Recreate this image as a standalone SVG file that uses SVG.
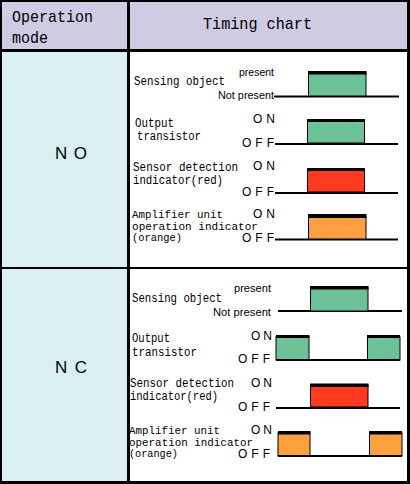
<svg xmlns="http://www.w3.org/2000/svg" width="410" height="484" viewBox="0 0 410 484">
<style>
text{font-family:"Liberation Mono","DejaVu Sans Mono",monospace;fill:#000}
.h{font-size:17px}
.l{font-size:12px}
.t{font-size:10.5px}
.s{font-size:10px;font-family:"Liberation Sans Narrow","Liberation Sans",sans-serif}
.m{font-size:17px;font-family:"Liberation Sans",sans-serif}
.o{font-size:12px;font-family:"Liberation Sans",sans-serif}
.base{stroke:#000;stroke-width:2;fill:none}
.g{fill:#6cc296;stroke:#000;stroke-width:1}
.r{fill:#ff3a20;stroke:#000;stroke-width:1}
.y{fill:#ffa040;stroke:#000;stroke-width:1}
.bar{fill:#000}
</style>
<g id="table">
<rect x="0" y="0" width="410" height="484" fill="#fff"/>
<rect x="0" y="0" width="410" height="51" fill="#cfcbe3"/>
<rect x="0" y="51" width="128" height="433" fill="#daeff1"/>
<rect x="0" y="0" width="2" height="484" fill="#000"/>
<rect x="0" y="0" width="410" height="2" fill="#000"/>
<rect x="407" y="0" width="3" height="484" fill="#000"/>
<rect x="0" y="481" width="410" height="3" fill="#000"/>
<rect x="127" y="0" width="3" height="484" fill="#000"/>
<rect x="0" y="49" width="410" height="3" fill="#000"/>
<rect x="0" y="267" width="410" height="2" fill="#000"/>
</g>
<g id="header">
<text class="h" x="12" y="22" textLength="81" lengthAdjust="spacingAndGlyphs">Operation</text>
<text class="h" x="12" y="43" textLength="36" lengthAdjust="spacingAndGlyphs">mode</text>
<text class="h" x="203" y="29" textLength="109" lengthAdjust="spacingAndGlyphs">Timing chart</text>
</g>
<g id="mode-no"><text class="m" x="55" y="159" textLength="32" lengthAdjust="spacing">NO</text></g>
<g id="mode-nc"><text class="m" x="55" y="373" textLength="32" lengthAdjust="spacing">NC</text></g>
<g id="no-sensing">
<text class="s" x="239" y="76" textLength="35" lengthAdjust="spacingAndGlyphs">present</text>
<text class="l" x="134" y="85" textLength="91" lengthAdjust="spacingAndGlyphs">Sensing object</text>
<text class="s" x="218" y="99" textLength="56" lengthAdjust="spacingAndGlyphs">Not present</text>
<line class="base" x1="274" y1="96.5" x2="399" y2="96.5"/>
<rect class="g" x="308.5" y="73" width="57.5" height="23"/>
<rect class="bar" x="308" y="71" width="58.5" height="3.5"/>
</g>
<g id="no-output">
<text class="l" x="135" y="127" textLength="39" lengthAdjust="spacingAndGlyphs">Output</text>
<text class="l" x="137" y="140" textLength="64" lengthAdjust="spacingAndGlyphs">transistor</text>
<text class="o" x="253" y="123" textLength="22" lengthAdjust="spacing">ON</text>
<text class="o" x="242" y="147" textLength="32" lengthAdjust="spacing">OFF</text>
<line class="base" x1="275" y1="144" x2="398" y2="144"/>
<rect class="g" x="307.5" y="121" width="57" height="22"/>
<rect class="bar" x="307" y="119" width="58" height="3"/>
</g>
<g id="no-sensor">
<text class="l" x="133" y="171" textLength="105" lengthAdjust="spacingAndGlyphs">Sensor detection</text>
<text class="l" x="133" y="184" textLength="90" lengthAdjust="spacingAndGlyphs">indicator(red)</text>
<text class="o" x="253" y="170" textLength="22" lengthAdjust="spacing">ON</text>
<text class="o" x="242" y="196" textLength="32" lengthAdjust="spacing">OFF</text>
<line class="base" x1="275" y1="193" x2="398" y2="193"/>
<rect class="r" x="307.5" y="170" width="57" height="22"/>
<rect class="bar" x="307" y="168" width="58" height="3"/>
</g>
<g id="no-amp">
<text class="t" x="132" y="218" textLength="91" lengthAdjust="spacingAndGlyphs">Amplifier unit</text>
<text class="t" x="132" y="229.5" textLength="126" lengthAdjust="spacingAndGlyphs">operation indicator</text>
<text class="t" x="132" y="241" textLength="50" lengthAdjust="spacingAndGlyphs">(orange)</text>
<text class="o" x="253" y="218" textLength="22" lengthAdjust="spacing">ON</text>
<text class="o" x="242" y="242" textLength="32" lengthAdjust="spacing">OFF</text>
<line class="base" x1="275" y1="239.5" x2="398" y2="239.5"/>
<rect class="y" x="308.5" y="216" width="57.5" height="23"/>
<rect class="bar" x="308" y="214" width="58.5" height="4"/>
</g>
<g id="nc-sensing">
<text class="s" x="234" y="292" textLength="37" lengthAdjust="spacingAndGlyphs">present</text>
<text class="l" x="132" y="302" textLength="90" lengthAdjust="spacingAndGlyphs">Sensing object</text>
<text class="s" x="213" y="316" textLength="58" lengthAdjust="spacingAndGlyphs">Not present</text>
<line class="base" x1="278" y1="311" x2="402" y2="311"/>
<rect class="g" x="310.5" y="288" width="57.5" height="23"/>
<rect class="bar" x="310" y="286" width="58.5" height="3.5"/>
</g>
<g id="nc-output">
<text class="l" x="132" y="342" textLength="38" lengthAdjust="spacingAndGlyphs">Output</text>
<text class="l" x="132" y="356" textLength="65" lengthAdjust="spacingAndGlyphs">transistor</text>
<text class="o" x="251" y="340" textLength="21" lengthAdjust="spacing">ON</text>
<text class="o" x="238" y="363" textLength="32" lengthAdjust="spacing">OFF</text>
<rect class="g" x="276" y="337" width="33" height="23"/>
<rect class="g" x="367.5" y="337" width="32.5" height="23"/>
<rect class="bar" x="276" y="335" width="33.5" height="3"/>
<rect class="bar" x="367" y="335" width="33" height="3"/>
<line class="base" x1="276" y1="360" x2="400" y2="360"/>
</g>
<g id="nc-sensor">
<text class="l" x="130" y="387" textLength="104" lengthAdjust="spacingAndGlyphs">Sensor detection</text>
<text class="l" x="130" y="400" textLength="88" lengthAdjust="spacingAndGlyphs">indicator(red)</text>
<text class="o" x="251" y="387" textLength="21" lengthAdjust="spacing">ON</text>
<text class="o" x="238" y="411" textLength="32" lengthAdjust="spacing">OFF</text>
<line class="base" x1="276" y1="408" x2="400" y2="408"/>
<rect class="r" x="310.5" y="385" width="57.5" height="22"/>
<rect class="bar" x="310" y="383.5" width="58.5" height="3.5"/>
</g>
<g id="nc-amp">
<text class="t" x="129" y="434" textLength="91" lengthAdjust="spacingAndGlyphs">Amplifier unit</text>
<text class="t" x="129" y="445.5" textLength="124" lengthAdjust="spacingAndGlyphs">operation indicator</text>
<text class="t" x="129" y="457" textLength="49" lengthAdjust="spacingAndGlyphs">(orange)</text>
<text class="o" x="251" y="434" textLength="21" lengthAdjust="spacing">ON</text>
<text class="o" x="238" y="458" textLength="32" lengthAdjust="spacing">OFF</text>
<rect class="y" x="278" y="433" width="32" height="23"/>
<rect class="y" x="369.5" y="433" width="32.5" height="23"/>
<rect class="bar" x="278" y="431" width="32.5" height="3.5"/>
<rect class="bar" x="369" y="431" width="33" height="3.5"/>
<line class="base" x1="278" y1="456" x2="402" y2="456"/>
</g>
</svg>
